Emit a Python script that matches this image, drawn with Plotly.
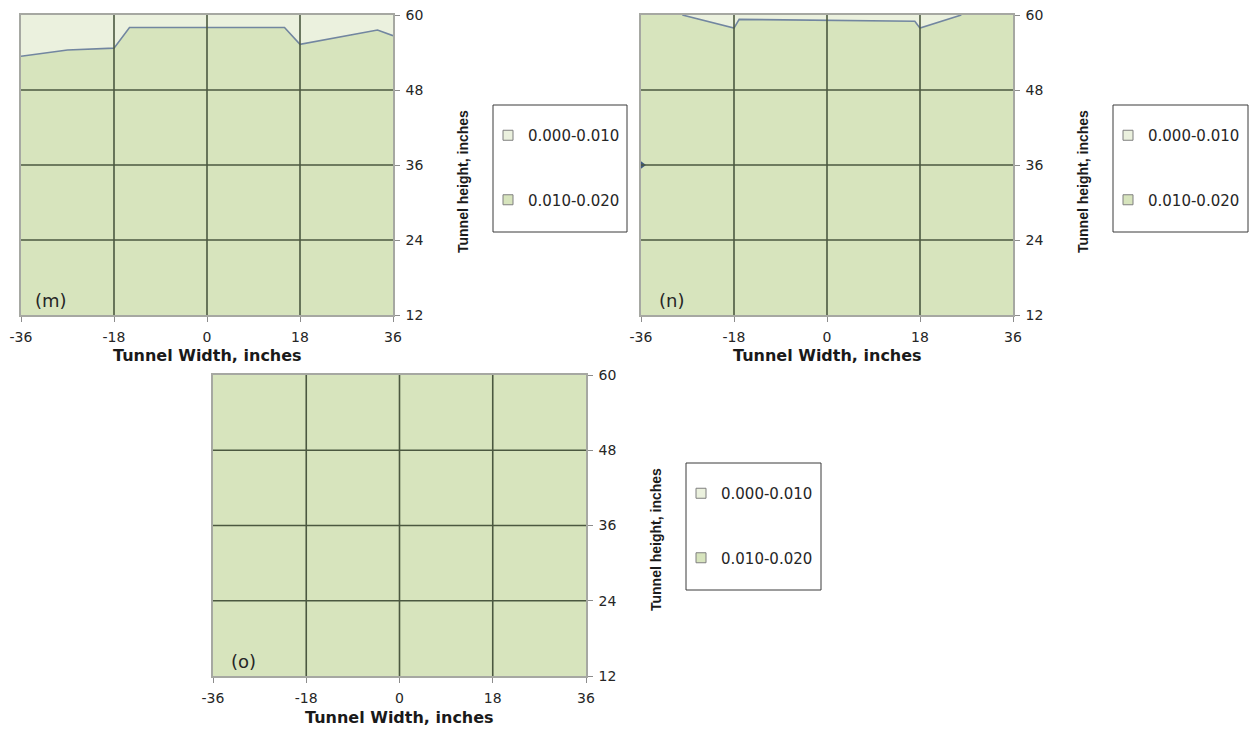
import plotly.graph_objects as go

# Axis ranges and tick values shared by the three panels
WIDTH_RANGE = [-36, 36]
HEIGHT_RANGE = [12, 60]
WIDTH_TICKS = [-36, -18, 0, 18, 36]
HEIGHT_TICKS = [12, 24, 36, 48, 60]
WIDTH_GRID = [-18, 0, 18]
HEIGHT_GRID = [24, 36, 48]

# Contour level names
LEVELS = ["0.000-0.010", "0.010-0.020"]

# Panel (m): upper edge of the 0.010-0.020 zone
m_x = [-36, -27, -18, -15, 0, 15, 18, 33, 36]
m_y = [53.4, 54.4, 54.7, 58.0, 58.0, 58.0, 55.3, 57.6, 56.7]

# Panel (n): upper edge of the 0.010-0.020 zone (boundary between index 1 and 6)
n_x = [-36, -28, -18, -17, 17, 18, 26, 36]
n_y = [60, 60, 57.9, 59.3, 59.0, 57.9, 60, 60]
n_edge = (1, 7)
# small 0.000-0.010 pocket on the left wall of panel (n)
n_pocket_x = [-36]
n_pocket_y = [36]

# Panel (o): the 0.010-0.020 zone fills the whole section
o_x = [-36, 36]
o_y = [60, 60]

PALE = "#ebf1de"
GREEN = "#d7e4bd"
EDGE = "#7286a0"
GRID = "#4b5840"
BORDER = "#a6a8a2"

W, H = 1250, 729


def px_x(v):
    return v / W


def px_y(v):
    return 1 - v / H


panels = [
    dict(tag="(m)", xa="x", ya="y", lg="legend", x=m_x, y=m_y, edge=(0, len(m_x)),
         dom_x=(21, 393), dom_y=(15, 315), box=(493, 105, 627, 232),
         ytitle=(463, 182), xtitle=(207, 356)),
    dict(tag="(n)", xa="x2", ya="y2", lg="legend2", x=n_x, y=n_y, edge=n_edge,
         dom_x=(641, 1013), dom_y=(15, 315), box=(1113, 105, 1248, 232),
         ytitle=(1083, 182), xtitle=(827, 356)),
    dict(tag="(o)", xa="x3", ya="y3", lg="legend3", x=o_x, y=o_y, edge=None,
         dom_x=(213, 586), dom_y=(375, 676), box=(686, 463, 821, 590),
         ytitle=(656, 540), xtitle=(399, 717)),
]

fig = go.Figure()
shapes = []
annotations = []
layout_axes = {}

for i, p in enumerate(panels):
    xa, ya = p["xa"], p["ya"]
    # pale 0.000-0.010 zone covering the section
    fig.add_trace(go.Scatter(
        x=WIDTH_RANGE, y=[HEIGHT_RANGE[1]] * 2, xaxis=xa, yaxis=ya,
        mode="lines", line=dict(width=0), fill="tozeroy", fillcolor=PALE,
        showlegend=False, hoverinfo="skip"))
    # 0.010-0.020 zone
    fig.add_trace(go.Scatter(
        x=p["x"], y=p["y"], xaxis=xa, yaxis=ya,
        mode="lines", line=dict(width=0), fill="tozeroy", fillcolor=GREEN,
        showlegend=False, hoverinfo="skip"))
    # contour line between the two zones
    if p["edge"] is not None:
        a, b = p["edge"]
        fig.add_trace(go.Scatter(
            x=p["x"][a:b], y=p["y"][a:b], xaxis=xa, yaxis=ya,
            mode="lines", line=dict(color=EDGE, width=1.6),
            showlegend=False, hoverinfo="skip"))
    if p["tag"] == "(n)":
        fig.add_trace(go.Scatter(
            x=n_pocket_x, y=n_pocket_y, xaxis=xa, yaxis=ya, mode="markers",
            marker=dict(symbol="triangle-right", size=10, color="#3f5a80"),
            showlegend=False, hoverinfo="skip"))

    # legend entries
    for k, (name, col) in enumerate(zip(LEVELS, [PALE, GREEN])):
        fig.add_trace(go.Scatter(
            x=[None], y=[None], xaxis=xa, yaxis=ya, mode="markers", name=name,
            marker=dict(symbol="square", size=10, color=col,
                        line=dict(color="#7f7f7f", width=1)),
            legend=p["lg"], legendgroup=f"{p['lg']}_{k}", showlegend=True))

    # gridlines drawn over the filled zones
    for v in WIDTH_GRID:
        shapes.append(dict(type="line", xref=xa, yref=ya, x0=v, x1=v,
                           y0=HEIGHT_RANGE[0], y1=HEIGHT_RANGE[1],
                           line=dict(color=GRID, width=1.6), layer="above"))
    for v in HEIGHT_GRID:
        shapes.append(dict(type="line", xref=xa, yref=ya, y0=v, y1=v,
                           x0=WIDTH_RANGE[0], x1=WIDTH_RANGE[1],
                           line=dict(color=GRID, width=1.6), layer="above"))

    # legend frame
    bx0, by0, bx1, by1 = p["box"]
    shapes.append(dict(type="rect", xref="paper", yref="paper",
                       x0=px_x(bx0), x1=px_x(bx1), y0=px_y(by1), y1=px_y(by0),
                       line=dict(color="#3a3a3a", width=1), fillcolor="white",
                       layer="below"))

    # axes
    suffix = "" if i == 0 else str(i + 1)
    common = dict(showgrid=False, zeroline=False, showline=True, linecolor=BORDER,
                  linewidth=1.5, mirror=True, ticks="outside", ticklen=5,
                  tickcolor="#8c8c8c", tickwidth=1,
                  tickfont=dict(family="DejaVu Sans", size=14, color="#262626"))
    layout_axes["xaxis" + suffix] = dict(
        common, range=WIDTH_RANGE, tickvals=WIDTH_TICKS,
        ticktext=[str(v) for v in WIDTH_TICKS],
        domain=[px_x(p["dom_x"][0]), px_x(p["dom_x"][1])],
        anchor=ya, ticklabelstandoff=3)
    layout_axes["yaxis" + suffix] = dict(
        common, range=HEIGHT_RANGE, tickvals=HEIGHT_TICKS,
        ticktext=[str(v) for v in HEIGHT_TICKS], side="right",
        domain=[px_y(p["dom_y"][1]), px_y(p["dom_y"][0])],
        anchor=xa, ticklabelstandoff=3)

    # legend placement
    layout_axes[p["lg"]] = dict(
        x=px_x(bx0 - 5), y=px_y(by0 + 14), xanchor="left", yanchor="top",
        bgcolor="rgba(0,0,0,0)", borderwidth=0, tracegroupgap=42,
        font=dict(family="DejaVu Sans", size=15, color="#262626"))

    # axis titles and panel tag
    tx, ty = p["ytitle"]
    annotations.append(dict(text="Tunnel height, inches", xref="paper", yref="paper",
                            x=px_x(tx), y=px_y(ty), xanchor="center", yanchor="middle",
                            showarrow=False, textangle=-90,
                            font=dict(family="Liberation Sans", size=14, color="#1a1a1a",
                                      weight="bold")))
    tx, ty = p["xtitle"]
    annotations.append(dict(text="Tunnel Width, inches", xref="paper", yref="paper",
                            x=px_x(tx), y=px_y(ty), xanchor="center", yanchor="middle",
                            showarrow=False,
                            font=dict(family="DejaVu Sans", size=16, color="#1a1a1a",
                                      weight="bold")))
    annotations.append(dict(text=p["tag"], xref="paper", yref="paper",
                            x=px_x(p["dom_x"][0] + 30), y=px_y(p["dom_y"][1] - 15),
                            xanchor="center", yanchor="middle", showarrow=False,
                            font=dict(family="DejaVu Sans", size=18, color="#262626")))

fig.update_layout(
    width=W, height=H, margin=dict(l=0, r=0, t=0, b=0, autoexpand=False),
    paper_bgcolor="white", plot_bgcolor="white",
    shapes=shapes, annotations=annotations, **layout_axes)

fig.write_html("out.html")
